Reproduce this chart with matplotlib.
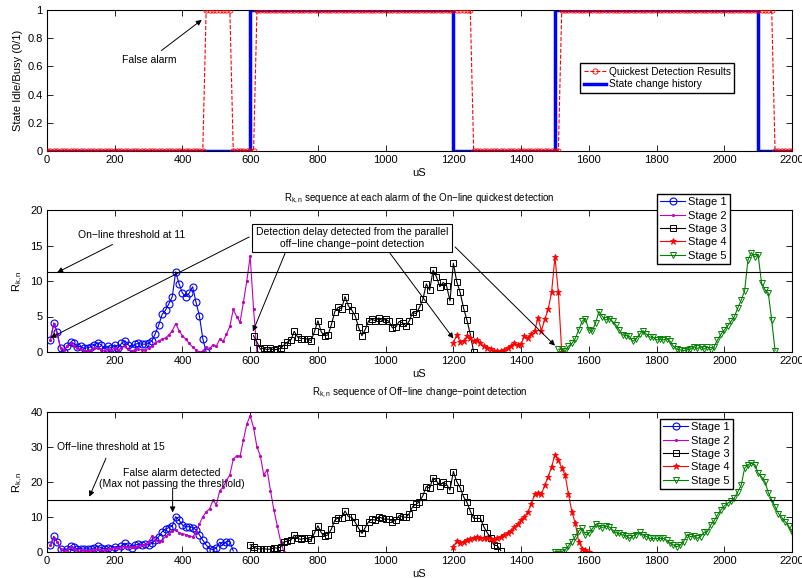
import numpy as np
import matplotlib
matplotlib.use("Agg")
import matplotlib.pyplot as plt

plt.rcParams['font.family'] = ['Liberation Sans', 'DejaVu Sans']
plt.rcParams['mathtext.default'] = 'regular'

# ---- top panel: detection result runs (start, end, state) and true state history
detect_runs = [(0, 460, 0), (470, 540, 1), (550, 610, 0), (620, 1250, 1),
               (1260, 1510, 0), (1520, 2140, 1), (2150, 2200, 0)]
state_t = [0, 600, 600, 1200, 1200, 1500, 1500, 2100, 2100, 2200]
state_v = [0, 0, 1, 1, 0, 0, 1, 1, 0, 0]

# ---- middle panel: on-line R_k,n per stage (sampled every 10 uS)
on_s1_start = 10
on_s1 = [1.7, 4.1, 2.8, 0.5, 0.0, 0.9, 1.4, 1.2, 0.7, 0.8, 0.5, 0.6, 0.7, 1.0, 1.3,
         1.0, 0.4, 0.8, 0.6, 1.0, 0.6, 1.2, 1.6, 1.0, 0.6, 1.1, 1.2, 1.1, 1.1, 1.2,
         1.6, 2.6, 3.8, 5.3, 5.9, 6.8, 7.8, 11.3, 9.6, 8.3, 7.8, 8.3, 9.2, 7.0, 5.1,
         1.9, 0.0]
on_s2_start = 10
on_s2 = [1.7, 4.0, 2.5, 0.6, 0.3, 0.8, 1.2, 0.8, 0.5, 0.4, 0.2, 0.2, 0.3, 0.5, 0.6,
         0.3, 0.2, 0.4, 0.3, 0.5, 0.3, 0.6, 0.8, 0.4, 0.2, 0.3, 0.4, 0.3, 0.3, 0.5,
         0.8, 1.2, 1.6, 1.8, 2.0, 2.4, 3.0, 4.0, 3.0, 2.3, 1.8, 1.2, 0.7, 0.3, 0.0,
         0.1, 0.7, 0.5, 1.0, 0.8, 1.8, 1.5, 2.5, 3.6, 6.0, 5.0, 4.2, 7.0, 10.0, 13.5,
         6.0, 0.0]
on_s3_start = 610
on_s3 = [2.3, 1.4, 0.4, 0.6, 0.3, 0.5, 0.3, 0.4, 0.5, 1.0, 1.4, 1.7, 2.9, 2.1, 1.9,
         1.9, 1.8, 1.6, 2.9, 4.4, 2.8, 2.3, 2.4, 3.9, 5.7, 6.3, 6.1, 7.8, 6.5, 5.9,
         5.1, 3.5, 2.3, 3.2, 4.4, 4.6, 4.4, 4.8, 4.4, 4.6, 4.3, 3.4, 3.5, 4.3, 4.1,
         3.7, 4.4, 5.6, 5.4, 6.3, 7.4, 9.6, 8.7, 11.5, 10.6, 9.2, 9.8, 9.3, 7.2, 12.5,
         9.9, 8.4, 6.2, 4.5, 2.5, 0.0]
on_s4_start = 1200
on_s4 = [1.3, 2.4, 1.4, 1.5, 2.2, 2.0, 1.5, 1.7, 1.2, 0.8, 0.6, 0.4, 0.2, 0.1, 0.1,
         0.3, 0.6, 0.9, 1.2, 1.0, 1.1, 2.3, 2.0, 2.6, 3.0, 4.8, 3.0, 4.6, 6.0, 8.4,
         13.4, 8.4, 0.0]
on_s5_start = 1510
on_s5 = [0.4, 0.4, 0.1, 0.8, 1.2, 1.9, 3.1, 4.3, 4.7, 3.1, 2.9, 4.1, 5.7, 5.0, 4.5,
         4.7, 4.3, 3.8, 3.1, 2.4, 2.3, 2.2, 1.5, 1.9, 2.5, 3.0, 2.5, 2.1, 2.1, 1.7,
         1.8, 1.7, 1.9, 1.5, 0.8, 0.4, 0.3, 0.2, 0.3, 0.4, 0.75, 0.5, 0.75, 0.4, 0.7,
         0.3, 0.75, 1.7, 2.5, 3.1, 3.7, 4.3, 5.0, 6.2, 7.3, 8.6, 13.0, 14.0, 13.4, 13.7,
         9.7, 8.8, 8.3, 4.5, 0.2]
on_threshold = 11.2

# ---- bottom panel: off-line R_k,n per stage
off_s1_start = 10
off_s1 = [2.0, 4.5, 3.0, 0.9, 0.1, 1.0, 1.7, 1.3, 0.9, 1.0, 0.8, 0.9, 0.8, 1.2, 1.7,
          1.2, 0.8, 1.2, 1.0, 1.5, 1.0, 1.8, 2.5, 1.8, 1.2, 2.0, 2.2, 2.0, 2.2, 2.0,
          2.5, 3.4, 4.4, 5.8, 6.5, 7.0, 7.4, 10.1, 9.1, 7.7, 7.2, 7.2, 7.0, 6.3, 4.9,
          3.4, 2.0, 1.0, 0.6, 1.2, 2.8, 2.0, 3.0, 3.0, 0.3]
off_s2_start = 10
off_s2 = [2.0, 4.0, 3.0, 1.0, 0.3, 0.6, 1.5, 1.0, 0.7, 0.6, 0.5, 0.4, 0.6, 0.6, 0.8,
          0.7, 0.5, 0.8, 1.0, 1.2, 1.1, 1.3, 1.5, 1.4, 1.3, 1.5, 1.7, 1.9, 2.1, 3.0,
          4.5, 3.5, 2.8, 3.2, 4.5, 5.2, 6.0, 6.3, 5.5, 5.2, 5.0, 4.6, 4.3, 5.5, 8.0,
          10.0, 11.5, 12.3, 14.8, 13.5, 17.5, 18.5, 20.5, 22.0, 26.5, 27.5, 27.3, 32.0,
          36.5, 39.0, 35.5, 30.0, 27.5, 22.0, 23.5, 17.5, 12.0, 7.5, 3.0, 0.0]
off_s3_start = 600
off_s3 = [2.1, 1.4, 1.0, 0.8, 1.0, 0.8, 0.8, 1.2, 1.1, 1.4, 2.9, 3.1, 3.4, 4.8, 3.9,
          3.6, 3.9, 3.9, 3.4, 5.5, 7.5, 5.5, 4.6, 4.9, 6.6, 9.1, 9.8, 9.8, 11.7, 10.1,
          9.9, 8.5, 6.8, 5.3, 7.0, 8.7, 9.3, 9.1, 10.1, 9.6, 9.3, 9.4, 8.7, 9.1, 10.4,
          10.1, 9.9, 11.0, 13.0, 13.6, 14.4, 16.1, 18.7, 18.2, 21.2, 20.3, 19.0, 19.9,
          19.3, 17.7, 23.0, 20.1, 18.4, 15.8, 14.2, 11.7, 9.6, 9.6, 9.6, 7.2, 5.5, 4.1,
          2.0, 1.8, 0.4]
off_s4_start = 1200
off_s4 = [1.5, 3.1, 2.7, 3.0, 3.4, 3.7, 3.9, 4.2, 4.1, 3.9, 4.1, 3.7, 3.4, 3.9, 4.4,
          5.0, 5.3, 6.0, 7.2, 7.9, 9.1, 10.1, 11.5, 13.6, 16.5, 17.0, 16.5, 19.1, 21.5,
          24.4, 27.7, 26.3, 23.9, 22.0, 16.5, 11.5, 8.2, 3.0, 1.0, 0.6, 0.1]
off_s5_start = 1500
off_s5 = [0.1, 0.1, 0.1, 0.6, 1.8, 3.0, 4.4, 6.0, 6.8, 4.9, 5.3, 6.6, 7.9, 7.4, 7.0,
          7.4, 7.2, 6.3, 5.5, 5.3, 4.9, 4.6, 3.9, 4.6, 5.0, 5.6, 4.9, 4.4, 3.9, 3.9,
          3.9, 3.9, 3.9, 3.4, 2.5, 2.0, 1.5, 2.0, 3.0, 4.9, 4.4, 4.6, 3.9, 4.4, 5.6,
          5.8, 7.7, 8.9, 10.6, 12.0, 13.2, 13.9, 14.6, 15.5, 17.2, 19.1, 23.9, 25.0,
          25.3, 25.0, 22.5, 21.5, 20.1, 17.0, 14.9, 13.0, 11.0, 9.8, 8.7, 7.5, 5.6]
off_threshold = 15

stage_labels = ['Stage 1', 'Stage 2', 'Stage 3', 'Stage 4', 'Stage 5']
green = '#008000'


def xs(start, vals):
    return np.arange(len(vals)) * 10 + start


def style(ax):
    ax.tick_params(direction='in', top=True, right=True, length=4, width=0.6,
                   labelsize=8, pad=3)
    for s in ax.spines.values():
        s.set_linewidth(0.8)


def stage_lines(ax, series):
    specs = [dict(color='b', marker='o', ms=5, mfc='none', mew=0.8),
             dict(color='m', marker='.', ms=2.5),
             dict(color='k', marker='s', ms=4, mfc='none', mew=0.7),
             dict(color='r', marker='*', ms=4.5, mew=0.6),
             dict(color=green, marker='v', ms=5, mfc='none', mew=0.7)]
    for (start, vals), sp, lab in zip(series, specs, stage_labels):
        ax.plot(xs(start, vals), vals, lw=0.8, label=lab, **sp)


def stage_legend(ax, left, top):
    ax.legend(loc='upper left', bbox_to_anchor=(left / W, 1 - top / H),
              bbox_transform=fig.transFigure, fontsize=8, fancybox=False,
              edgecolor='k', framealpha=1, borderpad=0.3, labelspacing=0.3,
              handlelength=2.2, handletextpad=0.3, borderaxespad=0)


fig = plt.figure(figsize=(8.03, 5.78), dpi=100)
W, H = 803.0, 578.0
def box(l, t, r, b):
    return [l / W, 1 - b / H, (r - l) / W, (b - t) / H]

# ---------------- top
ax1 = fig.add_axes(box(47, 10, 792, 151))
det_t = []
det_v = []
for a, b, v in detect_runs:
    for t in range(a, b + 1, 10):
        det_t.append(t)
        det_v.append(v)
ax1.plot(det_t, det_v, 'r--', lw=0.8, marker='o', ms=3.8, mfc='none', mew=0.6,
         label='Quickest Detection Results', zorder=3)
ax1.plot(state_t, state_v, color='b', lw=2.5, label='State change history', zorder=2)
ax1.set_xlim(0, 2200)
ax1.set_ylim(0, 1)
ax1.set_xticks(range(0, 2201, 200))
ax1.set_yticks([0, 0.2, 0.4, 0.6, 0.8, 1])
ax1.set_yticklabels(['0', '0.2', '0.4', '0.6', '0.8', '1'])
ax1.set_ylabel('State Idle/Busy (0/1)', fontsize=8, labelpad=3)
ax1.set_xlabel('uS', fontsize=8, labelpad=2)
style(ax1)
ax1.legend(loc='upper left', bbox_to_anchor=(580 / W, 1 - 63 / H),
           bbox_transform=fig.transFigure, fontsize=7.3, fancybox=False,
           edgecolor='k', framealpha=1, borderpad=0.35, labelspacing=0.25,
           handlelength=2.2, handletextpad=0.3, borderaxespad=0)
ax1.annotate('False alarm', xy=(457, 0.93), xytext=(301, 0.645), fontsize=7.5,
             ha='center', va='center',
             arrowprops=dict(arrowstyle='-|>', color='k', lw=0.7,
                             mutation_scale=8, shrinkA=2, shrinkB=0))

# ---------------- middle
ax2 = fig.add_axes(box(47, 210, 792, 352))
stage_lines(ax2, [(on_s1_start, on_s1), (on_s2_start, on_s2), (on_s3_start, on_s3),
                  (on_s4_start, on_s4), (on_s5_start, on_s5)])
ax2.axhline(on_threshold, color='k', lw=0.8)
ax2.set_xlim(0, 2200)
ax2.set_ylim(0, 20)
ax2.set_xticks(range(200, 2201, 200))
ax2.set_yticks([0, 5, 10, 15, 20])
ax2.set_ylabel('R$_{k,n}$', fontsize=8, labelpad=4)
ax2.set_xlabel('uS', fontsize=8, labelpad=2)
ax2.set_title('R$_{k,n}$ sequence at each alarm of the On\u2212line quickest detection',
              fontsize=7, pad=6)
style(ax2)
stage_legend(ax2, 657, 194)

arrow = dict(arrowstyle='-|>', color='k', lw=0.7, mutation_scale=8, shrinkA=0, shrinkB=0)
ax2.annotate('On\u2212line threshold at 11', xy=(30, on_threshold), xytext=(250, 16.5),
             fontsize=7.5, ha='center', va='center',
             arrowprops=dict(arrowstyle='-|>', color='k', lw=0.7, mutation_scale=8,
                             shrinkA=3, shrinkB=0))
ax2.text(901, 16.05, 'Detection delay detected from the parallel\noff\u2212line change\u2212point detection',
         fontsize=7.5, ha='center', va='center', zorder=6,
         bbox=dict(boxstyle='square,pad=0.35', fc='white', ec='k', lw=0.8))
for tail, head in [((597, 16.2), (10, 2.0)), ((703, 13.9), (608, 2.9)),
                   ((1013, 13.9), (1200, 1.9)), ((1205, 14.8), (1500, 0.9))]:
    ax2.annotate('', xy=head, xytext=tail, arrowprops=arrow)

# ---------------- bottom
ax3 = fig.add_axes(box(47, 412, 792, 552))
stage_lines(ax3, [(off_s1_start, off_s1), (off_s2_start, off_s2), (off_s3_start, off_s3),
                  (off_s4_start, off_s4), (off_s5_start, off_s5)])
ax3.axhline(off_threshold, color='k', lw=0.8)
ax3.set_xlim(0, 2200)
ax3.set_ylim(0, 40)
ax3.set_xticks(range(0, 2201, 200))
ax3.set_yticks([0, 10, 20, 30, 40])
ax3.set_ylabel('R$_{k,n}$', fontsize=8, labelpad=4)
ax3.set_xlabel('uS', fontsize=8, labelpad=2)
ax3.set_title('R$_{k,n}$ sequence of Off\u2212line change\u2212point detection',
              fontsize=7, pad=12)
style(ax3)
stage_legend(ax3, 660, 419)
ax3.annotate('Off\u2212line threshold at 15', xy=(125, 15.8), xytext=(189, 30.1),
             fontsize=7.5, ha='center', va='center',
             arrowprops=dict(arrowstyle='-|>', color='k', lw=0.7, mutation_scale=8,
                             shrinkA=3, shrinkB=0))
ax3.text(368, 21.0, 'False alarm detected\n(Max not passing the threshold)',
         fontsize=7.5, ha='center', va='center')
ax3.annotate('', xy=(371, 11.3), xytext=(371, 18.2), arrowprops=arrow)

fig.savefig('out.png', dpi=100)
